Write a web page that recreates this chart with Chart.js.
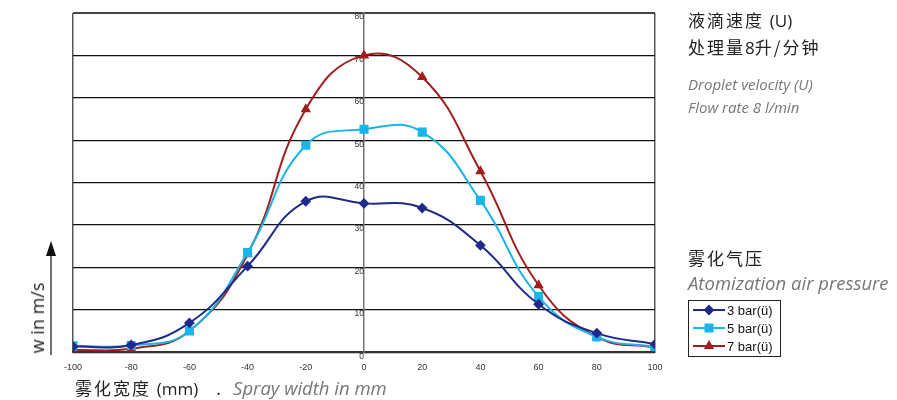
<!DOCTYPE html>
<html>
<head>
<meta charset="utf-8">
<script src="https://cdn.jsdelivr.net/npm/chart.js@4/dist/chart.umd.min.js"></script>
<style>
  html, body { margin: 0; padding: 0; background: #fff; }
  #wrap { position: relative; width: 897px; height: 400px; overflow: hidden; }
  .txt { position: absolute; white-space: nowrap; line-height: 1; }
  .cn { font-family: "Noto Sans CJK SC", sans-serif; color: #222; font-size: 17px; letter-spacing: 2px; }
  .lat { font-family: "Open Sans", sans-serif; letter-spacing: 0; }
  .en { font-family: "Open Sans", "Liberation Sans", sans-serif; font-style: italic; color: #777; font-size: 15px; }
</style>
</head>
<body>
<div id="wrap">
  <canvas id="chart" width="897" height="400"></canvas>
  <div class="txt cn" style="left:688px; top:11px;">液滴速度 <span class="lat">(U)</span></div>
  <div class="txt cn" style="left:688px; top:38px;">处理量<span class="lat">8</span>升/分钟</div>
  <div class="txt en" style="left:688px; top:77px;">Droplet velocity (U)</div>
  <div class="txt en" style="left:688px; top:100px;">Flow rate 8 l/min</div>
  <div class="txt cn" style="left:688px; top:249px;">雾化气压</div>
  <div class="txt en" style="left:688px; top:274px; font-size:18.5px;">Atomization air pressure</div>
  <div class="txt" style="left:75px; top:379px;">
    <span class="cn">雾化宽度 <span class="lat">(mm)</span></span>
    <span class="cn" style="margin-left:14px">.</span>
    <span class="en" style="margin-left:6px; font-size:18.5px;">Spray width in mm</span>
  </div>
  <div class="txt" style="left:37px; top:318px; transform: translate(-50%, -50%) rotate(-90deg); font-family:'Open Sans',sans-serif; font-size:18px; color:#222;">w in m/s</div>
</div>
<script>
// x positions (mm)
const widths = [-100, -80, -60, -40, -20, 0, 20, 40, 60, 80, 100];
const seriesLabels = ['3 bar(ü)', '5 bar(ü)', '7 bar(ü)'];
const bar3 = [1.3, 1.7, 6.9, 20.3, 35.6, 35.1, 34.0, 25.2, 11.3, 4.5, 1.9];
const bar5 = [1.5, 1.6, 5.0, 23.5, 48.8, 52.6, 51.9, 35.8, 13.1, 3.6, 1.3];
const bar7 = [0.5, 0.8, 5.0, 23.1, 57.3, 70.0, 64.9, 42.7, 15.8, 3.6, 1.1];
const yTicks = [0, 10, 20, 30, 40, 50, 60, 70, 80];

const colors = ['#1f2a8a', '#19b5e8', '#a21e1e'];
const pointStyles = ['rectRot', 'rect', 'triangle'];
const pointSizes = [4, 5, 4];

function makeSet(i, values) {
    return {
        label: seriesLabels[i],
        data: widths.map((x, k) => ({ x: x, y: values[k] })),
        borderColor: colors[i],
        backgroundColor: colors[i],
        borderWidth: 2,
        pointStyle: pointStyles[i],
        pointRadius: pointSizes[i],
        tension: 0.45
    };
}

// legend box drawn on the canvas, like the boxed legend in the original
const boxLegend = {
    id: 'boxLegend',
    afterDraw(chart) {
        const ctx = chart.ctx;
        const x0 = 688, y0 = 300, w = 92, h = 56;
        ctx.save();
        ctx.strokeStyle = '#222';
        ctx.lineWidth = 1;
        ctx.strokeRect(x0 + 0.5, y0 + 0.5, w, h);
        chart.data.datasets.forEach((ds, i) => {
            const yy = y0 + 10 + i * 18;
            ctx.strokeStyle = ds.borderColor;
            ctx.lineWidth = 2;
            ctx.beginPath();
            ctx.moveTo(x0 + 5, yy);
            ctx.lineTo(x0 + 37, yy);
            ctx.stroke();
            ctx.fillStyle = ds.backgroundColor;
            Chart.helpers.drawPoint(ctx, { pointStyle: ds.pointStyle, radius: ds.pointRadius, borderWidth: 1 }, x0 + 21, yy);
            ctx.fillStyle = '#111';
            ctx.font = '13px "Liberation Sans", Arial, sans-serif';
            ctx.textBaseline = 'middle';
            ctx.fillText(ds.label, x0 + 39, yy + 1);
        });
        ctx.restore();
    }
};

// arrow beside the y title
const yArrow = {
    id: 'yArrow',
    afterDraw(chart) {
        const ctx = chart.ctx;
        ctx.save();
        ctx.strokeStyle = '#111';
        ctx.fillStyle = '#111';
        ctx.lineWidth = 1.2;
        ctx.beginPath();
        ctx.moveTo(51, 355);
        ctx.lineTo(51, 252);
        ctx.stroke();
        ctx.beginPath();
        ctx.moveTo(46, 256);
        ctx.lineTo(56, 256);
        ctx.lineTo(51, 241);
        ctx.closePath();
        ctx.fill();
        ctx.restore();
    }
};

new Chart(document.getElementById('chart'), {
    type: 'line',
    data: {
        datasets: [makeSet(0, bar3), makeSet(1, bar5), makeSet(2, bar7)]
    },
    options: {
        responsive: false,
        animation: false,
        layout: { padding: { left: 73, right: 242, top: 13, bottom: 17 } },
        plugins: { legend: { display: false }, tooltip: { enabled: false } },
        scales: {
            x: {
                type: 'linear',
                min: widths[0],
                max: widths[widths.length - 1],
                ticks: {
                    stepSize: 20,
                    padding: 10,
                    color: '#333',
                    font: { family: 'Liberation Sans', size: 9 }
                },
                grid: {
                    drawTicks: false,
                    color: ctx => (ctx.tick && Math.abs(ctx.tick.value) === 100) ? '#555' : 'rgba(0,0,0,0)',
                    lineWidth: 1.5
                },
                border: { color: '#333', width: 2 }
            },
            y: {
                position: { x: 0 },
                min: yTicks[0],
                max: yTicks[yTicks.length - 1],
                afterBuildTicks: scale => { scale.ticks = yTicks.map(v => ({ value: v })); },
                ticks: {
                    padding: 4,
                    labelOffset: 4,
                    color: '#333',
                    font: { family: 'Liberation Sans', size: 8.5 }
                },
                grid: {
                    color: ctx => (ctx.tick && ctx.tick.value === 80) ? '#444' : '#111',
                    lineWidth: ctx => (ctx.tick && ctx.tick.value === 80) ? 2 : 1.2,
                    tickLength: 4
                },
                border: { color: '#777', width: 1.5 }
            }
        }
    },
    plugins: [boxLegend, yArrow]
});
</script>
</body>
</html>
